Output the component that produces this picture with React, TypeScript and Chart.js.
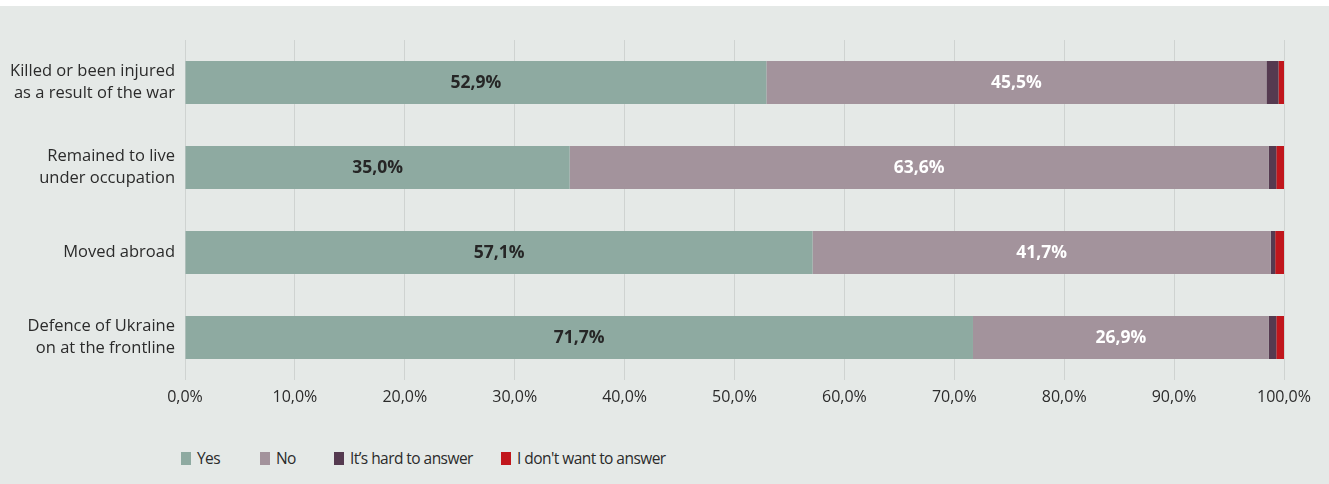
import React, { useEffect, useRef } from "react";
import { Chart, registerables } from "chart.js";

Chart.register(...registerables);

const categories: string[][] = [
  ["Killed or been injured", "as a result of the war"],
  ["Remained to live", "under occupation"],
  ["Moved abroad"],
  ["Defence of Ukraine", "on at the frontline"],
];
const yesValues = [52.9, 35.0, 57.1, 71.7];
const noValues = [45.5, 63.6, 41.7, 26.9];
const hardValues = [1.1, 0.7, 0.4, 0.7];
const dontWantValues = [0.5, 0.7, 0.8, 0.7];
const seriesNames = ["Yes", "No", "It\u2019s hard to answer", "I don't want to answer"];
const seriesColors = ["#8eaaa1", "#a3939c", "#553a50", "#c1161c"];
const xTicks = [0, 10, 20, 30, 40, 50, 60, 70, 80, 90, 100];

const FONT = "'Open Sans', 'Noto Sans', sans-serif";
const TEXT = "#2b2b2b";

const fmt = (v: number) => v.toFixed(1).replace(".", ",") + "%";

const labelPlugin = {
  id: "segLabels",
  afterDatasetsDraw(chart: any) {
    const ctx = chart.ctx;
    ctx.save();
    ctx.font = `bold 17.5px ${FONT}`;
    ctx.textAlign = "center";
    ctx.textBaseline = "middle";
    [0, 1].forEach((di) => {
      const meta = chart.getDatasetMeta(di);
      const ds = chart.data.datasets[di];
      meta.data.forEach((el: any, i: number) => {
        const left = Math.min(el.x, el.base);
        const right = Math.max(el.x, el.base);
        ctx.fillStyle = di === 0 ? "#262626" : "#ffffff";
        ctx.fillText(fmt(ds.data[i]), (left + right) / 2, el.y + 1);
      });
    });
    ctx.restore();
  },
};

export default function App() {
  const ref = useRef<HTMLCanvasElement | null>(null);

  useEffect(() => {
    if (!ref.current) return;
    const values = [yesValues, noValues, hardValues, dontWantValues];
    const chart = new Chart(ref.current, {
      type: "bar",
      data: {
        labels: categories,
        datasets: values.map((d, i) => ({
          label: seriesNames[i],
          data: d,
          backgroundColor: seriesColors[i],
          borderWidth: 0,
          barPercentage: 0.506,
          categoryPercentage: 1,
        })),
      },
      options: {
        indexAxis: "y",
        responsive: false,
        animation: false,
        maintainAspectRatio: false,
        layout: { padding: { top: 34, right: 45, left: 0, bottom: 0 } },
        plugins: {
          legend: { display: false },
          tooltip: { enabled: false },
        },
        scales: {
          x: {
            stacked: true,
            min: 0,
            max: 100,
            afterFit: (s: any) => {
              s.height = 46;
            },
            afterBuildTicks: (s: any) => {
              s.ticks = xTicks.map((v) => ({ value: v }));
            },
            grid: { color: "#cfd3d1", lineWidth: 1, drawTicks: false },
            border: { display: false },
            ticks: {
              padding: 8,
              color: TEXT,
              font: { family: FONT, size: 16 },
              callback: (v: any) => fmt(Number(v)),
            },
          },
          y: {
            stacked: true,
            afterFit: (s: any) => {
              s.width = 185;
            },
            grid: { display: false, drawTicks: false },
            border: { display: false },
            ticks: {
              padding: 10,
              color: TEXT,
              font: { family: FONT, size: 16.5, lineHeight: 1.35 },
            },
          },
        },
      },
      plugins: [labelPlugin],
    });
    return () => chart.destroy();
  }, []);

  const legendLeft = [181, 260, 334, 501];

  return (
    <div
      style={{
        position: "absolute",
        left: 0,
        top: 0,
        width: 1329,
        height: 484,
        background: "#ffffff",
        overflow: "hidden",
      }}
    >
      <div
        style={{
          position: "absolute",
          left: 0,
          top: 6,
          width: 1329,
          height: 478,
          background: "#e5e9e7",
        }}
      >
        <canvas ref={ref} width={1329} height={420} style={{ display: "block" }} />
        {seriesNames.map((n, i) => (
          <div
            key={n}
            style={{
              position: "absolute",
              left: legendLeft[i],
              top: 442,
              height: 20,
              display: "flex",
              alignItems: "center",
              fontFamily: FONT,
              fontSize: 15.5,
              letterSpacing: -0.55,
              color: TEXT,
              whiteSpace: "nowrap",
            }}
          >
            <span
              style={{
                display: "inline-block",
                width: 10,
                height: 13,
                background: seriesColors[i],
                marginRight: 6,
              }}
            />
            {n}
          </div>
        ))}
      </div>
    </div>
  );
}
